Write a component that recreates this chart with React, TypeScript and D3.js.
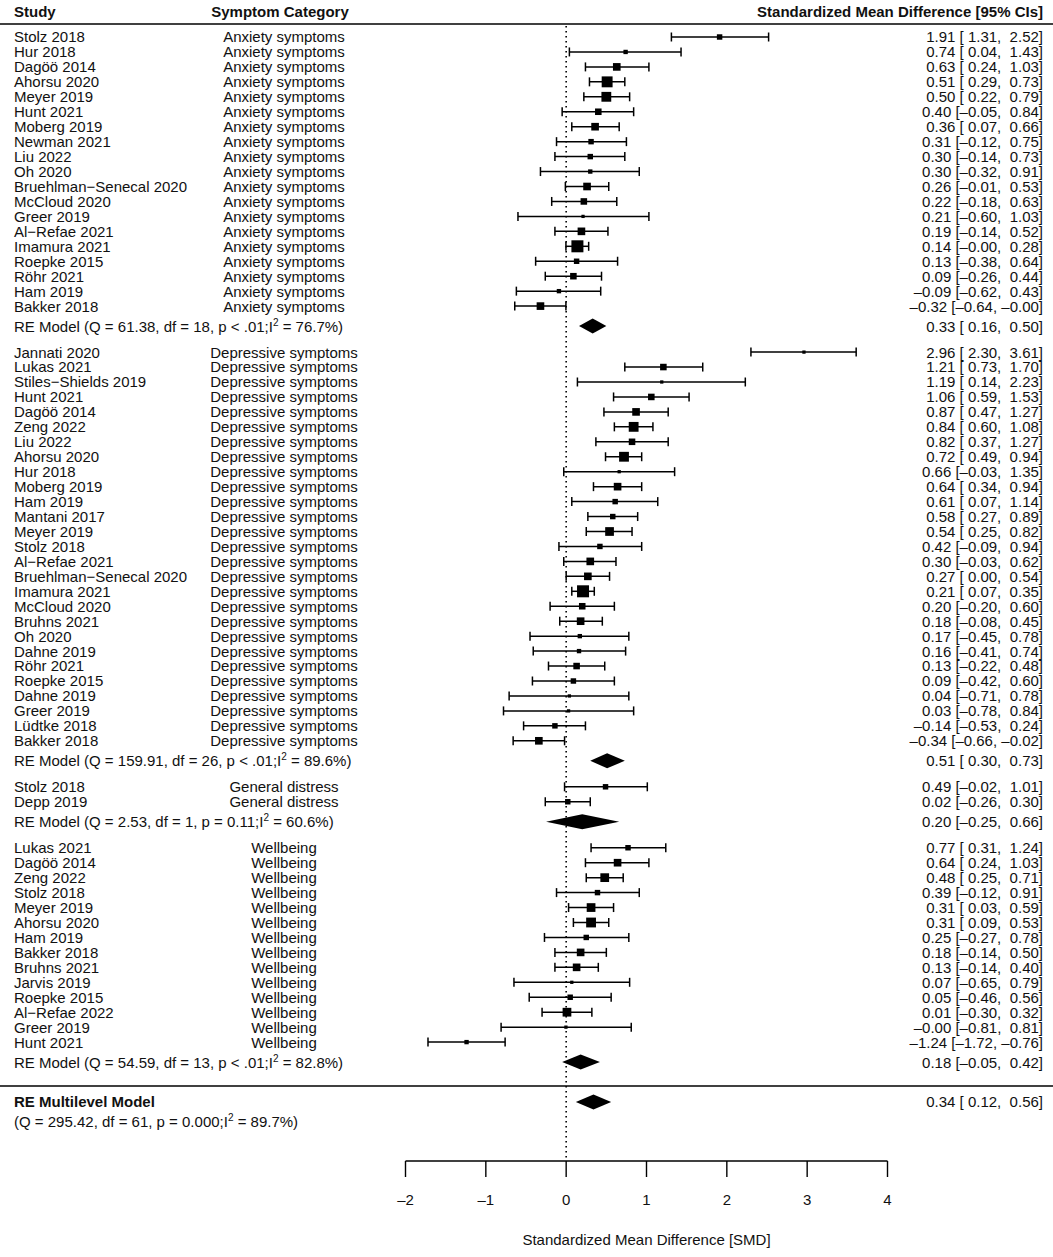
import React from "react";
import * as d3 from "d3";

// ---------- DATA ----------
const anxStudies = ["Stolz 2018","Hur 2018","Dagöö 2014","Ahorsu 2020","Meyer 2019","Hunt 2021","Moberg 2019","Newman 2021","Liu 2022","Oh 2020","Bruehlman−Senecal 2020","McCloud 2020","Greer 2019","Al−Refae 2021","Imamura 2021","Roepke 2015","Röhr 2021","Ham 2019","Bakker 2018"];
const anxEst = [1.91,0.74,0.63,0.51,0.50,0.40,0.36,0.31,0.30,0.30,0.26,0.22,0.21,0.19,0.14,0.13,0.09,-0.09,-0.32];
const anxLo = [1.31,0.04,0.24,0.29,0.22,-0.05,0.07,-0.12,-0.14,-0.32,-0.01,-0.18,-0.60,-0.14,-0.003,-0.38,-0.26,-0.62,-0.64];
const anxHi = [2.52,1.43,1.03,0.73,0.79,0.84,0.66,0.75,0.73,0.91,0.53,0.63,1.03,0.52,0.28,0.64,0.44,0.43,-0.003];
const anxWt = [5,4,7,10,9,6,7,5,5,4,7,6,3,7,11,5,6,4,7];

const depStudies = ["Jannati 2020","Lukas 2021","Stiles−Shields 2019","Hunt 2021","Dagöö 2014","Zeng 2022","Liu 2022","Ahorsu 2020","Hur 2018","Moberg 2019","Ham 2019","Mantani 2017","Meyer 2019","Stolz 2018","Al−Refae 2021","Bruehlman−Senecal 2020","Imamura 2021","McCloud 2020","Bruhns 2021","Oh 2020","Dahne 2019","Röhr 2021","Roepke 2015","Dahne 2019","Greer 2019","Lüdtke 2018","Bakker 2018"];
const depEst = [2.96,1.21,1.19,1.06,0.87,0.84,0.82,0.72,0.66,0.64,0.61,0.58,0.54,0.42,0.30,0.27,0.21,0.20,0.18,0.17,0.16,0.13,0.09,0.04,0.03,-0.14,-0.34];
const depLo = [2.30,0.73,0.14,0.59,0.47,0.60,0.37,0.49,-0.03,0.34,0.07,0.27,0.25,-0.09,-0.03,0.00,0.07,-0.20,-0.08,-0.45,-0.41,-0.22,-0.42,-0.71,-0.78,-0.53,-0.66];
const depHi = [3.61,1.70,2.23,1.53,1.27,1.08,1.27,0.94,1.35,0.94,1.14,0.89,0.82,0.94,0.62,0.54,0.35,0.60,0.45,0.78,0.74,0.48,0.60,0.78,0.84,0.24,-0.02];
const depWt = [3,6,3,6,7,9,6,9,3,7,5,5,8,5,7,7,11,6,7,4,4,6,5,3,3,5,7];

const genStudies = ["Stolz 2018","Depp 2019"];
const genEst = [0.49,0.02];
const genLo = [-0.02,-0.26];
const genHi = [1.01,0.30];
const genWt = [5,5];

const wbStudies = ["Lukas 2021","Dagöö 2014","Zeng 2022","Stolz 2018","Meyer 2019","Ahorsu 2020","Ham 2019","Bakker 2018","Bruhns 2021","Jarvis 2019","Roepke 2015","Al−Refae 2022","Greer 2019","Hunt 2021"];
const wbEst = [0.77,0.64,0.48,0.39,0.31,0.31,0.25,0.18,0.13,0.07,0.05,0.01,-0.003,-1.24];
const wbLo = [0.31,0.24,0.25,-0.12,0.03,0.09,-0.27,-0.14,-0.14,-0.65,-0.46,-0.30,-0.81,-1.72];
const wbHi = [1.24,1.03,0.71,0.91,0.59,0.53,0.78,0.50,0.40,0.79,0.56,0.32,0.81,-0.76];
const wbWt = [5,7,8,5,8,9,5,7,7,3,5,8,3,4];

const categories = ["Anxiety symptoms","Depressive symptoms","General distress","Wellbeing"];
const reEst = [0.33,0.51,0.20,0.18];
const reLo = [0.16,0.30,-0.25,-0.05];
const reHi = [0.50,0.73,0.66,0.42];
const reQ = ["61.38","159.91","2.53","54.59"];
const reDf = ["18","26","1","13"];
const reP = ["p < .01","p < .01","p = 0.11","p < .01"];
const reI2 = ["76.7%","89.6%","60.6%","82.8%"];

const mlEst = 0.34, mlLo = 0.12, mlHi = 0.56;
const mlStats = { Q: "295.42", df: "61", p: "p = 0.000", I2: "89.7%" };

const xTicks = [-2,-1,0,1,2,3,4];

// ---------- HELPERS ----------
const fmt = (v: number) => {
  const s = v.toFixed(2);
  const padded = s.length < 5 ? " ".repeat(5 - s.length) + s : s;
  return padded.replace(/-/g, "–");
};
const ciText = (e: number, l: number, h: number) => `${fmt(e)} [${fmt(l)}, ${fmt(h)}]`;

const W = 1053, H = 1257;
const FONT = "'Liberation Sans', Arial, Helvetica, sans-serif";
const FS = 15;

export default function App() {
  const x = d3.scaleLinear().domain([-2, 4]).range([405.5, 887.5]);
  const sz = d3.scaleLinear().domain([0, 11]).range([0, 12]);

  const groups = [
    { s: anxStudies, e: anxEst, l: anxLo, h: anxHi, w: anxWt },
    { s: depStudies, e: depEst, l: depLo, h: depHi, w: depWt },
    { s: genStudies, e: genEst, l: genLo, h: genHi, w: genWt },
    { s: wbStudies, e: wbEst, l: wbLo, h: wbHi, w: wbWt },
  ];

  const step = 14.95;
  const rightX = 1043;
  const catX = 284;
  const sw = 1.5;
  let y = 37;
  const rows: React.ReactNode[] = [];
  groups.forEach((g, gi) => {
    g.s.forEach((name, i) => {
      const yy = y + i * step;
      const side = sz(g.w[i]);
      rows.push(
        <g key={`r${gi}-${i}`}>
          <text x={14} y={yy} dy="0.36em">{name}</text>
          <text x={catX} y={yy} dy="0.36em" textAnchor="middle">{categories[gi]}</text>
          <text x={rightX} y={yy} dy="0.36em" textAnchor="end" style={{ whiteSpace: "pre" }}>{ciText(g.e[i], g.l[i], g.h[i])}</text>
          <line x1={x(g.l[i])} x2={x(g.h[i])} y1={yy} y2={yy} stroke="#000" strokeWidth={sw} />
          <line x1={x(g.l[i])} x2={x(g.l[i])} y1={yy - 4.5} y2={yy + 4.5} stroke="#000" strokeWidth={sw} />
          <line x1={x(g.h[i])} x2={x(g.h[i])} y1={yy - 4.5} y2={yy + 4.5} stroke="#000" strokeWidth={sw} />
          <rect x={x(g.e[i]) - side / 2} y={yy - side / 2} width={side} height={side} fill="#000" />
        </g>
      );
    });
    const last = y + (g.s.length - 1) * step;
    const ry = last + 20;
    rows.push(
      <g key={`re${gi}`}>
        <text x={14} y={ry} dy="0.36em">
          {`RE Model (Q = ${reQ[gi]}, df = ${reDf[gi]}, ${reP[gi]};I`}
          <tspan dy={-6} fontSize={10}>2</tspan>
          <tspan dy={6}>{` = ${reI2[gi]})`}</tspan>
        </text>
        <text x={rightX} y={ry} dy="0.36em" textAnchor="end" style={{ whiteSpace: "pre" }}>{ciText(reEst[gi], reLo[gi], reHi[gi])}</text>
        <path d={`M${x(reLo[gi])},${ry} L${x(reEst[gi])},${ry - 7.5} L${x(reHi[gi])},${ry} L${x(reEst[gi])},${ry + 7.5} Z`} fill="#000" />
      </g>
    );
    y = ry + 26;
  });

  const sepY = 1086;
  const mlY = 1102;
  const axisY = 1161;

  return (
    <svg width={W} height={H} style={{ position: "absolute", left: 0, top: 0, background: "#fff" }}
      fontFamily={FONT} fontSize={FS} fill="#111">
      <rect x={0} y={0} width={W} height={H} fill="#fff" />
      {/* header */}
      <text x={14} y={12} dy="0.36em" fontWeight="bold">Study</text>
      <text x={280} y={12} dy="0.36em" fontWeight="bold" textAnchor="middle">Symptom Category</text>
      <text x={rightX} y={12} dy="0.36em" fontWeight="bold" textAnchor="end">Standardized Mean Difference [95% CIs]</text>
      <line x1={0} x2={W} y1={24} y2={24} stroke="#000" strokeWidth={1.6} />
      {/* reference line */}
      <line x1={x(0)} x2={x(0)} y1={26} y2={axisY} stroke="#000" strokeWidth={1.6} strokeDasharray="1.6,3.4" />
      {rows}
      <line x1={0} x2={W} y1={sepY} y2={sepY} stroke="#000" strokeWidth={1.6} />
      <text x={14} y={mlY} dy="0.36em" fontWeight="bold">RE Multilevel Model</text>
      <text x={14} y={mlY + 20} dy="0.36em">
        {`(Q = ${mlStats.Q}, df = ${mlStats.df}, ${mlStats.p};I`}
        <tspan dy={-6} fontSize={10}>2</tspan>
        <tspan dy={6}>{` = ${mlStats.I2})`}</tspan>
      </text>
      <text x={rightX} y={mlY} dy="0.36em" textAnchor="end" style={{ whiteSpace: "pre" }}>{ciText(mlEst, mlLo, mlHi)}</text>
      <path d={`M${x(mlLo)},${mlY} L${x(mlEst)},${mlY - 7.5} L${x(mlHi)},${mlY} L${x(mlEst)},${mlY + 7.5} Z`} fill="#000" />
      {/* axis */}
      <line x1={x(xTicks[0])} x2={x(xTicks[xTicks.length - 1])} y1={axisY} y2={axisY} stroke="#000" strokeWidth={1.4} />
      {xTicks.map((t) => (
        <g key={`t${t}`}>
          <line x1={x(t)} x2={x(t)} y1={axisY} y2={axisY + 16} stroke="#000" strokeWidth={1.4} />
          <text x={x(t)} y={1200} dy="0.36em" textAnchor="middle">{t < 0 ? `–${Math.abs(t)}` : `${t}`}</text>
        </g>
      ))}
      <text x={x(1)} y={1240} dy="0.36em" textAnchor="middle">Standardized Mean Difference [SMD]</text>
    </svg>
  );
}
